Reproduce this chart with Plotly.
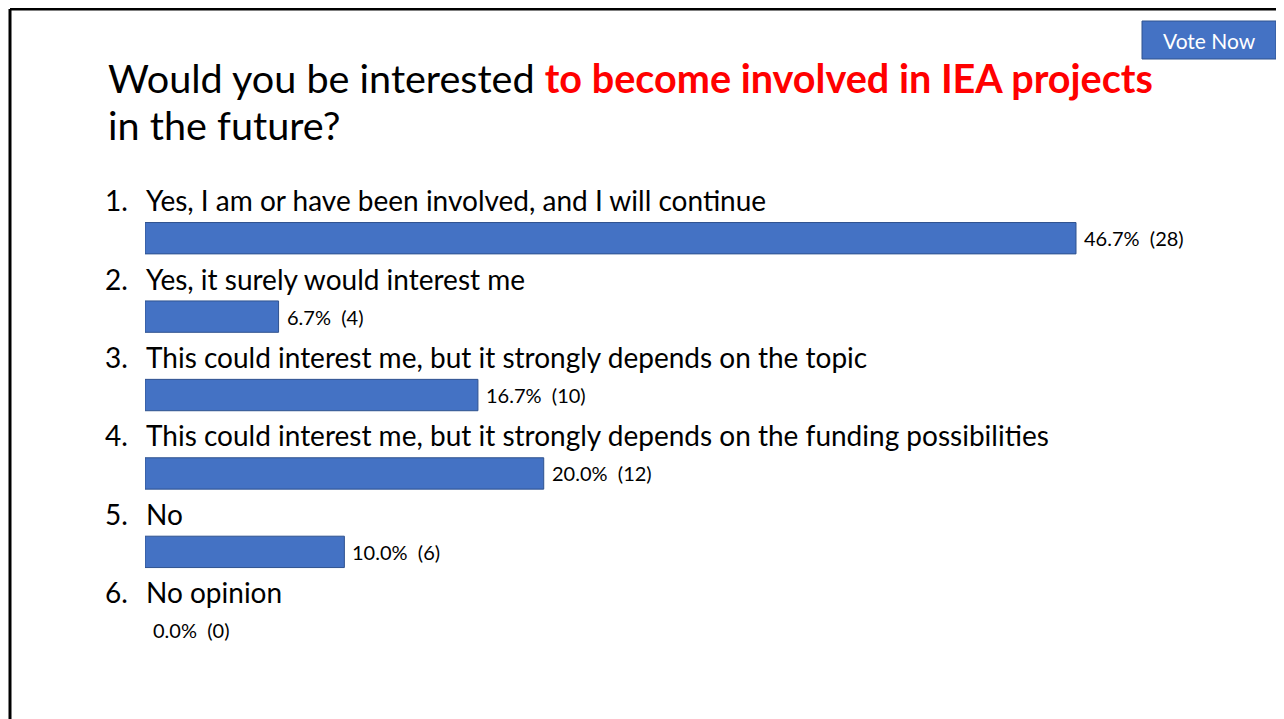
import plotly.graph_objects as go

# poll answers
options = [
    "Yes, I am or have been involved, and I will continue",
    "Yes, it surely would interest me",
    "This could interest me, but it strongly depends on the topic",
    "This could interest me, but it strongly depends on the funding possibilities",
    "No",
    "No opinion",
]
numbers = ["1.", "2.", "3.", "4.", "5.", "6."]
percents = [46.7, 6.7, 16.7, 20.0, 10.0, 0.0]
counts = [28, 4, 10, 12, 6, 0]

bar_blue = '#4472C4'
bar_edge = '#2F528F'
font_main = 'Lato'

# the page body has an 8px margin, so the figure is shrunk and shifted by it
OFF = 8
W, H = 1284 - OFF, 719 - OFF


def px(x):
    return (x - OFF) / W


def py(y):
    return 1 - (y - OFF) / H


fig = go.Figure()

fig.add_trace(go.Bar(
    x=percents,
    y=options,
    orientation='h',
    marker=dict(color=bar_blue,
                line=dict(color=bar_edge, width=[1 if p > 0 else 0 for p in percents])),
    hoverinfo='skip',
))

# question text above each bar, numbering to the left
for num, opt, pct, cnt in zip(numbers, options, percents, counts):
    fig.add_annotation(x=0, y=opt, text=opt, xref='x', yref='y',
                       xanchor='left', yanchor='middle', yshift=38, xshift=-1,
                       showarrow=False, font=dict(size=28, color='#000000', family=font_main))
    fig.add_annotation(x=0, y=opt, text=num, xref='x', yref='y',
                       xanchor='left', yanchor='middle', yshift=38, xshift=-42,
                       showarrow=False, font=dict(size=28, color='#000000', family=font_main))
    fig.add_annotation(x=pct, y=opt, text=f"{pct:.1f}%\u00a0 ({cnt})", xref='x', yref='y',
                       xanchor='left', yanchor='middle', xshift=6,
                       showarrow=False, font=dict(size=20, color='#000000', family=font_main))

# title, two lines
fig.add_annotation(
    x=px(106), y=py(78), xref='paper', yref='paper', xanchor='left', yanchor='middle',
    showarrow=False,
    text="Would you be interested <span style='color:#FF0000'><b>to become involved in IEA projects</b></span>",
    font=dict(size=39.6, color='#000000', family=font_main),
)
fig.add_annotation(
    x=px(106), y=py(125), xref='paper', yref='paper', xanchor='left', yanchor='middle',
    showarrow=False, text="in the future?",
    font=dict(size=39.6, color='#000000', family=font_main),
)

# "Vote Now" button
fig.add_shape(type='rect', xref='paper', yref='paper',
              x0=px(1142), x1=px(1276), y0=py(59), y1=py(21),
              fillcolor=bar_blue, line=dict(color=bar_edge, width=1))
fig.add_annotation(x=px(1209), y=py(40), xref='paper', yref='paper',
                   xanchor='center', yanchor='middle',
                   text="Vote Now", showarrow=False,
                   font=dict(size=21, color='#ffffff', family=font_main))

# slide frame (left and top edges)
fig.add_shape(type='line', xref='paper', yref='paper',
              x0=px(10), x1=px(10), y0=0, y1=py(9), line=dict(color='#000000', width=3))
fig.add_shape(type='line', xref='paper', yref='paper',
              x0=px(10), x1=1, y0=py(9), y1=py(9), line=dict(color='#000000', width=3))

px_per_pct = (1076 - 145) / 46.7
fig.update_layout(
    width=W, height=H,
    margin=dict(l=0, r=0, t=0, b=0),
    plot_bgcolor='#ffffff', paper_bgcolor='#ffffff',
    showlegend=False,
    bargap=0.6,
    xaxis=dict(domain=[px(145), 1], range=[0, (1284 - 145) / px_per_pct],
               visible=False, fixedrange=True),
    yaxis=dict(domain=[py(669.5), py(199)], range=[len(options) - 0.5, -0.5],
               type='category', visible=False, fixedrange=True),
)

fig.write_html("out.html")
